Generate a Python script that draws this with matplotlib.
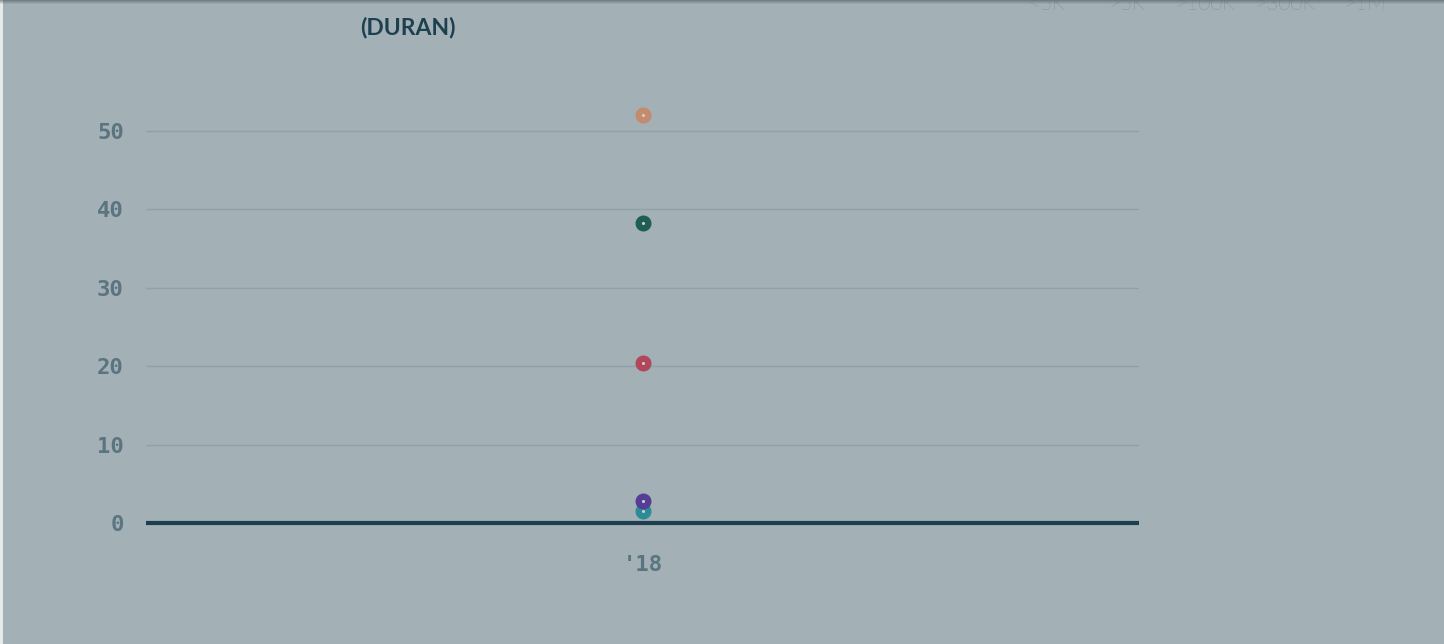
import matplotlib
matplotlib.use('Agg')
import matplotlib.pyplot as plt
from matplotlib.patches import Rectangle

# data
years = ["'18"]
series = ['<5K', '>5K', '>100K', '>300K', '>1M']
values = {
    '<5K': [1.5],
    '>5K': [2.8],
    '>100K': [20.4],
    '>300K': [38.3],
    '>1M': [52.1],
}
colors = {
    '<5K': '#2b8c96',
    '>5K': '#553d97',
    '>100K': '#b0475b',
    '>300K': '#1f5e55',
    '>1M': '#c48b6c',
}
yticks = [0, 10, 20, 30, 40, 50]

bg = '#a3b0b5'
dark = '#1d4050'
tick_col = '#5a7480'

W, H = 1444, 644
fig = plt.figure(figsize=(W / 100, H / 100), dpi=100, facecolor=bg)
ax = fig.add_axes([146 / W, (H - 523) / H, 993 / W, 433 / H])
ax.set_facecolor(bg)

x = list(range(len(years)))
for name in series:
    ax.plot(x, values[name], 'o', color=colors[name], markersize=10.5,
            clip_on=False, zorder=3)
    ax.plot(x, values[name], 'o', color='#d0d0d0', markersize=1.2,
            clip_on=False, zorder=4)

ax.set_xlim(-0.5, 0.5)
ax.set_ylim(0, 433 / 7.84)
ax.set_xticks(x)
ax.set_xticklabels(years)
ax.set_yticks(yticks)
ax.set_yticklabels([str(v) for v in yticks])

ax.grid(axis='y', color='#8fa1a9', linewidth=1)
ax.set_axisbelow(True)
for s in ['top', 'right', 'left']:
    ax.spines[s].set_visible(False)
ax.spines['bottom'].set_color(dark)
ax.spines['bottom'].set_linewidth(3)
ax.spines['bottom'].set_capstyle('butt')
ax.spines['bottom'].set_zorder(2)
ax.tick_params(length=0)
ax.tick_params(axis='y', pad=16)
ax.tick_params(axis='x', pad=23)
for lab in ax.get_yticklabels() + ax.get_xticklabels():
    lab.set_fontfamily('DejaVu Sans Mono')
    lab.set_fontweight('bold')
    lab.set_fontsize(16)
    lab.set_color(tick_col)

fig.text(408 / W, 1 - 27 / H, '(DURAN)', ha='center', va='center',
         fontsize=16.5, fontweight='bold', color=dark, family='Lato')

# legend labels (cut off at the top edge in the reference)
leg_x = [1047, 1127, 1205, 1285, 1365]
for name, lx in zip(series, leg_x):
    fig.text(lx / W, 1 - 14 / H, name, ha='center', va='bottom',
             fontsize=15, fontweight='light', color='#66777e', family='Lato')

# frame edges: light strip at left, shadow on top
fig.patches.append(Rectangle((0, 0), 3 / W, 1, transform=fig.transFigure,
                             facecolor='#e6eaeb', edgecolor='none', zorder=10))
for i, a in enumerate([0.55, 0.4, 0.25, 0.1]):
    fig.patches.append(Rectangle((0, 1 - (i + 1) / H), 1, 1 / H,
                                 transform=fig.transFigure, facecolor='#4a5a60',
                                 alpha=a, edgecolor='none', zorder=10))

fig.savefig('out.png', dpi=100, facecolor=bg)
